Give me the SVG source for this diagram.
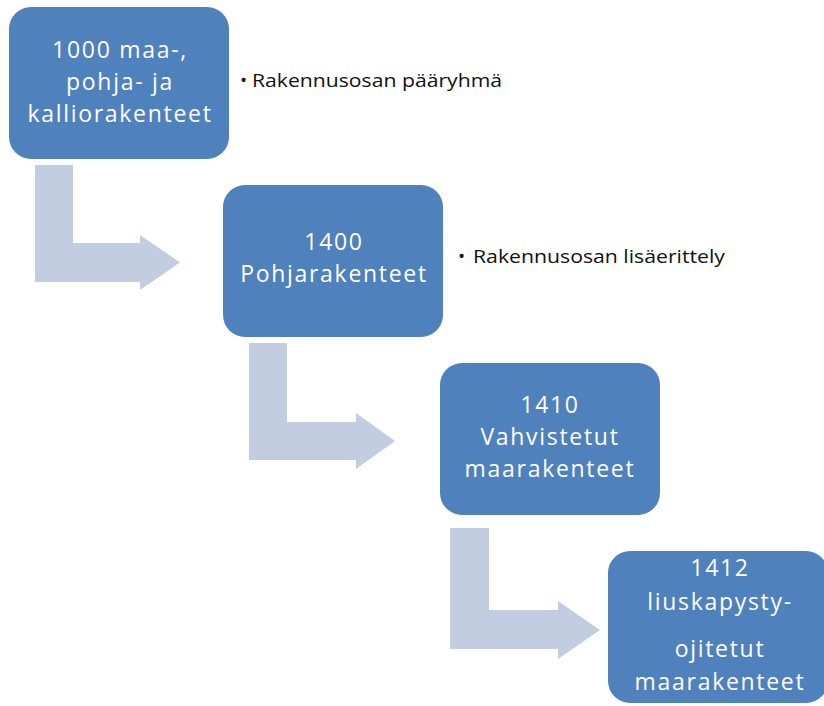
<svg xmlns="http://www.w3.org/2000/svg" width="824" height="706" viewBox="0 0 824 706">
<style>
.box{fill:#4F81BD;}
.arrow{fill:#C3CDE1;}
.lbl{font-family:"Open Sans","DejaVu Sans",sans-serif;font-size:23px;letter-spacing:1.7px;fill:#FFFFFF;text-anchor:middle;}
.note{font-family:"Open Sans","DejaVu Sans",sans-serif;font-size:19px;fill:#111111;}
</style>
<rect width="824" height="706" fill="#FFFFFF"/>
<g id="connectors">
<path class="arrow" d="M35,165 L73,165 L73,243 L140,243 L140,235 L180,262.5 L140,290 L140,282 L35,282 Z"/>
<path class="arrow" d="M249,343 L287,343 L287,422 L356,422 L356,413 L395,441 L356,469 L356,460 L249,460 Z"/>
<path class="arrow" d="M450,528 L489,528 L489,610 L558,610 L558,601 L600,630 L558,659 L558,649 L450,649 Z"/>
</g>
<g id="node1">
<rect class="box" x="9" y="7" width="220" height="152" rx="22" ry="22"/>
<text class="lbl" x="120" y="58">1000 maa-,</text>
<text class="lbl" x="120" y="90">pohja- ja</text>
<text class="lbl" x="120" y="122">kalliorakenteet</text>
</g>
<g id="note1">
<text class="note" x="240" y="87">•</text>
<text class="note" x="252" y="87" textLength="250" lengthAdjust="spacingAndGlyphs">Rakennusosan pääryhmä</text>
</g>
<g id="node2">
<rect class="box" x="223" y="185" width="220" height="152" rx="22" ry="22"/>
<text class="lbl" x="334" y="250">1400</text>
<text class="lbl" x="334" y="282">Pohjarakenteet</text>
</g>
<g id="note2">
<text class="note" x="458" y="263">•</text>
<text class="note" x="473" y="263" textLength="252" lengthAdjust="spacingAndGlyphs">Rakennusosan lisäerittely</text>
</g>
<g id="node3">
<rect class="box" x="440" y="363" width="220" height="152" rx="22" ry="22"/>
<text class="lbl" x="550" y="413">1410</text>
<text class="lbl" x="550" y="445">Vahvistetut</text>
<text class="lbl" x="550" y="477">maarakenteet</text>
</g>
<g id="node4">
<rect class="box" x="608" y="551" width="220" height="152" rx="22" ry="22"/>
<text class="lbl" x="720" y="576">1412</text>
<text class="lbl" x="720" y="610">liuskapysty-</text>
<text class="lbl" x="720" y="657">ojitetut</text>
<text class="lbl" x="720" y="690">maarakenteet</text>
</g>
</svg>
